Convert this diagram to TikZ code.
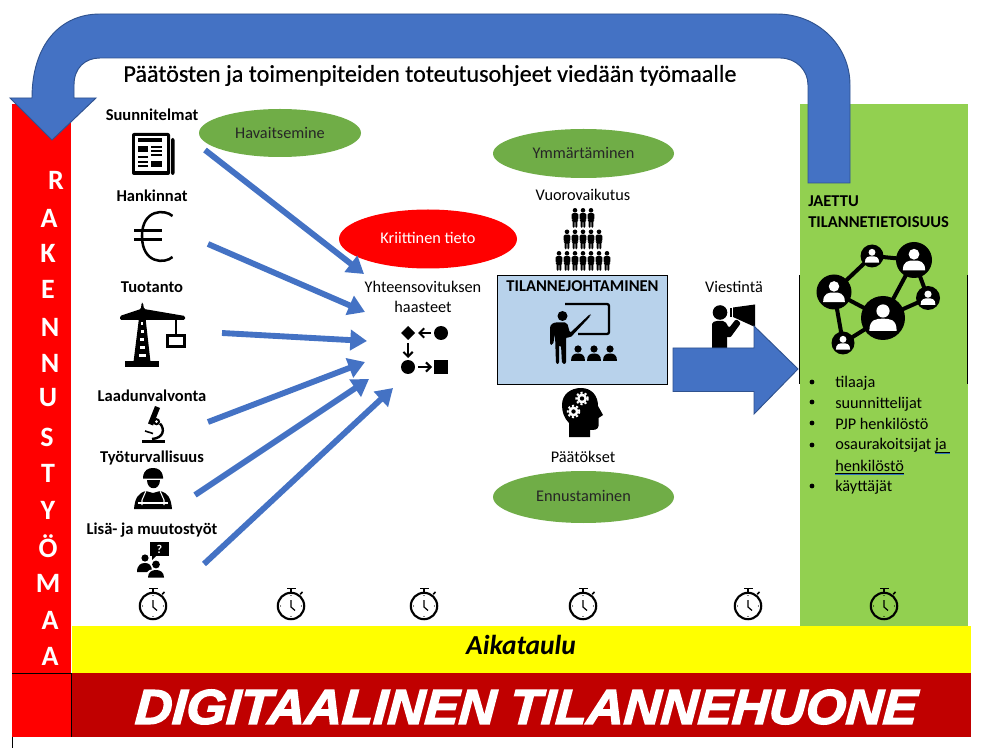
\documentclass[tikz,border=0pt]{standalone}
\usepackage{fontspec}
\setmainfont{Carlito}
\usetikzlibrary{arrows.meta,shapes.geometric}
\font\dtfont="Liberation Sans/BI:embolden=3;extend=1.05;slant=0.06" at 36.6pt
\font\ttfont="Carlito:embolden=0.5" at 18.1pt
\definecolor{rred}{HTML}{FF0000}
\definecolor{dred}{HTML}{C00000}
\definecolor{pgreen}{HTML}{92D050}
\definecolor{egreen}{HTML}{70AD47}
\definecolor{ablue}{HTML}{4472C4}
\definecolor{bblue}{HTML}{2F528F}
\definecolor{boxblue}{HTML}{B8D2EB}
\definecolor{ulblue}{HTML}{2E75B6}
\definecolor{yell}{HTML}{FFFF00}
\newcommand{\tsize}{\fontsize{12.2}{14}\selectfont}
\newcommand{\bsize}{\fontsize{12.4}{14}\selectfont\bfseries}
\newcommand{\ulbl}[1]{\setbox0\hbox{#1}\rlap{\color{ulblue}\rule[-2.6pt]{\wd0}{0.6pt}}\rlap{\rule[-1.6pt]{\wd0}{0.45pt}}\box0}
\tikzset{
  lab/.style={font=\tsize,text=black,inner sep=0pt,align=center},
  blab/.style={font=\bsize,text=black,inner sep=0pt,align=center},
  llab/.style={font=\tsize,text=black,inner sep=0pt,anchor=base west},
  oval/.style={ellipse,fill=egreen,draw=none,inner sep=0pt,font=\tsize,text=black!85},
  feed/.style={ablue,line width=4.4pt,-{Triangle[length=12.5pt,width=15pt]}},
  bigarrow/.style={fill=ablue,draw=bblue,line width=0.7pt},
  letter/.style={font=\fontsize{21}{23}\selectfont\bfseries,text=white,inner sep=0pt}
}
\newcommand{\stopw}[2]{\begin{scope}[shift={(#1,#2)}]
  \draw[black,line width=1.6pt] (0,0) circle[radius=13.2];
  \fill[black] (-4.5,-18.5) rectangle (4.5,-16.8);
  \fill[black] (-1.2,-17) rectangle (1.2,-13.5);
  \draw[black,line width=1.2pt] (9.2,-11.8) -- (11.5,-14);
  \draw[black,line width=0.9pt] (0,-6) -- (0,1) -- (4,4.5);
  \foreach \a in {0,90,180,270} \fill[black] (\a:10.5) circle[radius=0.7];
\end{scope}}
\newcommand{\persn}[2]{\begin{scope}[shift={(#1,#2)}]
  \fill[black] (0,2.3) circle[radius=2.3];
  \fill[black,rounded corners=1] (-3.5,5.2) -- (3.5,5.2) -- (3.2,12) -- (2.3,12.5) -- (2.3,20) -- (0.4,20) -- (0.4,13) -- (-0.4,13) -- (-0.4,20) -- (-2.3,20) -- (-2.3,12.5) -- (-3.2,12) -- cycle;
\end{scope}}
\newcommand{\netfig}[3]{\begin{scope}[shift={(#1,#2)},scale=#3]
  \fill[black] (0,0) circle[radius=1];
  \fill[white] (0,-0.32) circle[radius=0.3];
  \fill[white] (-0.62,0.58) .. controls (-0.62,0.05) and (-0.3,0.03) .. (0,0.03) .. controls (0.3,0.03) and (0.62,0.05) .. (0.62,0.58) -- cycle;
\end{scope}}
\newcommand{\gearw}[2]{\begin{scope}[shift={(#1,#2)}]
  \fill[white] (0,0) circle[radius=5];
  \draw[white,line width=1.4pt,dash pattern=on 1.6pt off 1.6pt] (0,0) circle[radius=5.8];
  \fill[black] (0,0) circle[radius=2.2];
\end{scope}}
\begin{document}
\begin{tikzpicture}[x=0.75pt,y=-0.75pt]
\useasboundingbox (0,0) rectangle (985,748);
\fill[white] (0,0) rectangle (985,748);
% panels
\fill[rred] (12,104) rectangle (71,737);
\fill[pgreen] (800,104) rectangle (968,626);
\fill[yell] (72,626) rectangle (971,673);
\fill[dred] (72,673) rectangle (971,737);
\draw[black,line width=0.6pt] (12,673) -- (71.5,673);
\draw[black,line width=0.6pt] (71.5,673) -- (71.5,737);
\draw[black,line width=0.7pt] (12.5,737) -- (12.5,748);
\draw[black,line width=0.8pt] (799.5,275) -- (799.5,384);
\draw[black,line width=0.8pt] (967.5,275) -- (967.5,384);
% side word
\foreach \n/\t/\xx/\yy in {l1/R/56/180,l2/A/49/218,l3/K/48/253,l4/E/48/289,l5/N/50/327,l6/N/50/363,l7/U/48/398,l8/S/47/437,l9/T/48/473,l10/Y/48/510,l11/Ö/48/546,l12/M/48/583,l13/A/50/620,l14/A/50/656}
  \node[letter] (\n) at (\xx,\yy) {\t};
% bent arrow
\path[bigarrow] (808,183) -- (850,183) -- (850,85)
  .. controls (850,45) and (817,14) .. (777,14) -- (100,14)
  .. controls (60,14) and (32,45) .. (32,98) -- (10,98) -- (52,140) -- (96,98) -- (74,98) -- (74,85)
  .. controls (74,68) and (85,58) .. (100,58) -- (780,58)
  .. controls (796,58) and (808,70) .. (808,85) -- cycle;
\node[font=\ttfont,text=black,inner sep=0pt] (title) at (430,75.5) {Päätösten ja toimenpiteiden toteutusohjeet viedään työmaalle};
% left labels
\node[blab] (suun) at (152,115) {Suunnitelmat};
\node[blab] (hank) at (152,195.5) {Hankinnat};
\node[blab] (tuot) at (152,287) {Tuotanto};
\node[blab] (laad) at (152,396) {Laadunvalvonta};
\node[blab] (tyot) at (152,457.5) {Työturvallisuus};
\node[blab] (lisa) at (152,530.5) {Lisä- ja muutostyöt};
% newspaper
\fill[black,rounded corners=1.5] (132,133) rectangle (170,175);
\fill[black,rounded corners=1.5] (171,138) rectangle (174.5,175);
\fill[white] (135,136) rectangle (166.5,171.5);
\fill[black] (138,138.5) rectangle (162,142.5);
\fill[black] (138,146) rectangle (148,152);
\foreach \yy in {146,150,154} \fill[black] (151,\yy) rectangle (162,\yy+1.6);
\fill[black] (138,156) rectangle (148,157.6);
\foreach \yy in {161,165.5} \fill[black] (138,\yy) rectangle (148,\yy+1.6);
\fill[black] (151,161) rectangle (162,167);
% euro
\draw[black,line width=1.9pt] (172.5,216) .. controls (165,209) and (142,209) .. (142,236) .. controls (142,264) and (165,264) .. (172.5,257);
\fill[black] (134,229) rectangle (162,232);
\fill[black] (134,238.5) rectangle (162,241.5);
% crane
\fill[black,rounded corners=1] (120,316) -- (141,309) -- (141.5,303) -- (143,303) -- (144,309) -- (185,316) -- (185,320) -- (120,320) -- cycle;
\fill[black] (139,318) -- (145.5,318) -- (150.5,362) -- (133.5,362) -- cycle;
\fill[black] (125,361) rectangle (159,367);
\foreach \yy/\w in {322/1,330/1.4,338/2,346/2.6,354/3.2} \fill[white] (142.3-\w,\yy) rectangle (142.3+\w,\yy+3.5);
\draw[black,line width=1.2pt] (176,319) -- (176,335);
\draw[black,line width=1.7pt] (167.5,335.5) rectangle (184.5,346.5);
% microscope
\fill[black] (142,439.5) rectangle (165,442.5);
\draw[black,line width=1.8pt] (160,423.5) .. controls (165,429) and (164,438) .. (152,439);
\fill[black] (155,406) -- (160,408) -- (153,425.5) -- (148,423.5) -- cycle;
\draw[black,line width=1.2pt] (145,431) -- (153,433.5);
\fill[black] (156.5,421.7) circle[radius=3.6];
\fill[white] (156.5,421.7) circle[radius=1.5];
% worker
\fill[black] (143,478.5) -- (143,477) .. controls (144,470) and (148,468) .. (153,468) .. controls (158,468) and (162,470) .. (163,477) -- (163,478.5) -- cycle;
\fill[black] (146.5,480) .. controls (146.5,491) and (159.5,491) .. (159.5,480) -- cycle;
\fill[black] (134,509) .. controls (135,498) and (138,493) .. (146,491) -- (153,493) -- (160,491) .. controls (168,493) and (171,498) .. (172,509) -- cycle;
\draw[white,line width=0.8pt] (146,491) -- (142,500) -- (142,505);
\draw[white,line width=0.8pt] (160,491) -- (164,500) -- (164,505);
\draw[white,line width=0.8pt] (138,503) -- (168,503);
% people with question
\fill[black] (150,542) rectangle (169,556);
\fill[black] (152,555) -- (157,555) -- (152,560) -- cycle;
\node[font=\fontsize{9}{10}\selectfont\bfseries,text=white,inner sep=0pt] (qmark) at (159.5,549) {?};
\fill[black] (145,558) circle[radius=3.6];
\fill[black] (137,572) .. controls (137,565) and (141,563) .. (145,563) .. controls (149,563) and (152,565) .. (152,572) -- cycle;
\fill[black] (156,564.5) circle[radius=3.9];
\fill[white] (146,577.5) -- (146,575) .. controls (147,570) and (151,569) .. (156,569) -- (160,577.5) -- cycle;
\fill[black] (148,577.5) .. controls (148,572) and (152,570) .. (156,570) .. controls (160,570) and (164,572) .. (164,577.5) -- cycle;
% stopwatches
\stopw{153}{606}\stopw{291}{606}\stopw{424}{606}\stopw{583}{606}\stopw{748}{606}\stopw{884}{606}
% ovals
\node[oval,minimum width={162*0.75pt},minimum height={48*0.75pt}] (hav) at (280,133) {Havaitsemine};
\node[oval,minimum width={181*0.75pt},minimum height={49*0.75pt}] (ymm) at (583.5,153.5) {\raisebox{1.5pt}{Ymmärtäminen}};
\node[oval,fill=rred,text=white,minimum width={178*0.75pt},minimum height={59*0.75pt}] (krit) at (428,239) {\raisebox{2pt}{Kriittinen tieto}};
\node[oval,minimum width={181*0.75pt},minimum height={52*0.75pt}] (enn) at (583.5,497) {\raisebox{1.5pt}{Ennustaminen}};
% centre
\node[lab] (yht) at (423,297) {Yhteensovituksen\\[1.2pt]haasteet};
\coordinate (s1) at (205,150); \coordinate (e1) at (364,274);
\coordinate (s2) at (208,244); \coordinate (e2) at (365,312);
\coordinate (s3) at (222,333); \coordinate (e3) at (367,341);
\coordinate (s4) at (208,422); \coordinate (e4) at (365,362);
\coordinate (s5) at (195,495); \coordinate (e5) at (369,379);
\coordinate (s6) at (204,564); \coordinate (e6) at (393,388);
\foreach \i in {1,...,6} \draw[feed] (s\i) -- (e\i);
% flow icon
\fill[black] (408,326) -- (415,333) -- (408,340) -- (401,333) -- cycle;
\fill[black] (441,333) circle[radius=7];
\fill[black] (408,367) circle[radius=7];
\fill[black] (434,360) rectangle (448,374);
\draw[black,line width=1.5pt,-{Straight Barb[length=3.5pt,width=7pt]}] (431,333) -- (418,333);
\draw[black,line width=1.5pt,-{Straight Barb[length=3.5pt,width=7pt]}] (408,343) -- (408,358);
\draw[black,line width=1.5pt,-{Straight Barb[length=3.5pt,width=7pt]}] (418,367) -- (432,367);
% pyramid
\node[lab] (vuor) at (583,195) {Vuorovaikutus};
\foreach \xx in {575,583,591} \persn{\xx}{208};
\foreach \xx in {567,575,583,591,599} \persn{\xx}{229.5};
\foreach \xx in {559,567,575,583,591,599,607} \persn{\xx}{251};
% main box
\node[draw=black,fill=boxblue,line width=0.8pt,minimum width={170*0.75pt},minimum height={108.5*0.75pt},inner sep=0pt] (tjbox) at (582.5,329.8) {};
\node[blab] (tj) at (582.5,286) {TILANNEJOHTAMINEN};
\draw[black,line width=1.7pt,rounded corners=1.5] (565,304) -- (609,304) -- (609,334) -- (578,334);
\fill[black] (562.5,316) circle[radius=5];
\fill[black,rounded corners=1.5] (550,345) -- (550,330) .. controls (550,324) and (554,322.5) .. (558,322.5) -- (567,322.5) -- (570,333) -- (590,314) -- (591,315.5) -- (570,338) -- (566,337) -- (566,364) -- (562,364) -- (561,345) -- (559,345) -- (559,364) -- (556,364) -- (555,334) -- (553,345) -- cycle;
\foreach \xx in {578,594,610} {
  \fill[black] (\xx,349) circle[radius=3.6];
  \fill[black] (\xx-7,361) .. controls (\xx-7,355) and (\xx-4,353.5) .. (\xx,353.5) .. controls (\xx+4,353.5) and (\xx+7,355) .. (\xx+7,361) -- cycle;
}
% head
\fill[black] (569,437) -- (569,423) .. controls (564,418) and (562,412) .. (562,405) .. controls (562,394) and (571,388) .. (581,388) .. controls (592,388) and (598,396) .. (598,406) -- (603,415) -- (598.5,418) -- (598.5,426) .. controls (598,430) and (594,430) .. (590,430) -- (590,437) -- cycle;
\gearw{582}{398.5}\gearw{573.5}{411.5}
\node[lab] (paat) at (583,457) {Päätökset};
% megaphone person
\node[lab] (vies) at (734,287) {Viestintä};
\fill[black] (720,312.5) circle[radius=7.3];
\fill[black,rounded corners=1.5] (712,350) -- (712,326) .. controls (712,322) and (715,321) .. (719,321) -- (725,321) -- (729,328) -- (736,319) -- (741,323) -- (730,338) -- (727,336) -- (727,350) -- cycle;
\fill[black] (730,308) rectangle (732,317);
\fill[black] (733,307.5) -- (755,304.5) -- (755,327) -- (733,317) -- cycle;
% big arrow
\path[bigarrow] (673,348) -- (754,348) -- (754,326) -- (798,369) -- (754,414) -- (754,391.5) -- (673,391.5) -- cycle;
% right panel
\node[blab,align=left,anchor=west] (jaet) at (808,211.5) {JAETTU\\[1.5pt]TILANNETIETOISUUS};
\coordinate (n1) at (834,292); \coordinate (n2) at (872,256); \coordinate (n3) at (914,260);
\coordinate (n4) at (928,298); \coordinate (n5) at (883,318); \coordinate (n6) at (843,343);
\draw[black,line width=3pt] (n1) -- (n2) -- (n3) -- (n5) -- (n1) -- (n6) -- (n5) -- (n4) -- (n3);
\netfig{834}{292}{17.5}\netfig{872}{256}{11.5}\netfig{914}{260}{18}
\netfig{928}{298}{12}\netfig{883}{318}{22}\netfig{843}{343}{11.5}
\foreach \yy in {382,402,423,445,486} \fill[black] (812,\yy) circle[radius=2.4];
\node[llab] (b1) at (835,387.5) {tilaaja};
\node[llab] (b2) at (835,408) {suunnittelijat};
\node[llab] (b3) at (835,429) {PJP henkilöstö};
\node[llab] (b4) at (835,450) {osaurakoitsijat \ulbl{ja\kern2.5pt}};
\node[llab] (b5) at (835,471) {\ulbl{henkilöstö}};
\node[llab] (b6) at (835,491.5) {käyttäjät};
% bars
\node[font=\fontsize{20.6}{22}\selectfont\bfseries\itshape,text=black,inner sep=0pt] (aika) at (521,645) {Aikataulu};
\node[font=\dtfont,text=white,inner sep=0pt] (dig) at (525.5,707) {DIGITAALINEN TILANNEHUONE};
\end{tikzpicture}
\end{document}
